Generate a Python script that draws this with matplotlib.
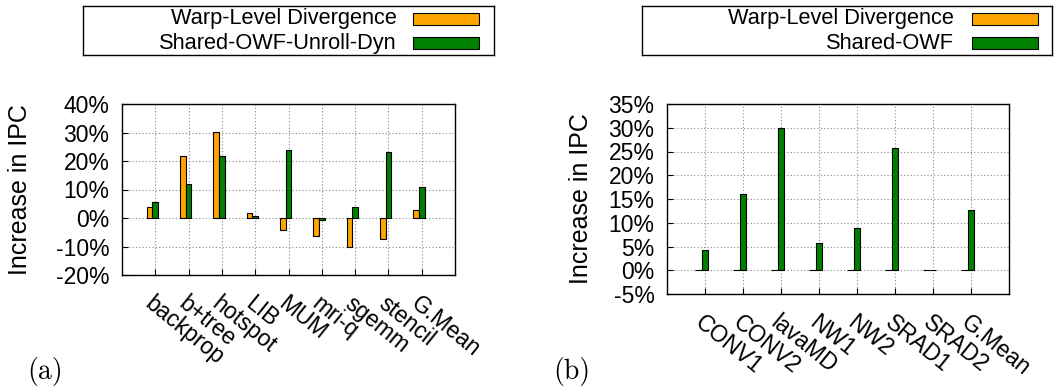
import matplotlib
matplotlib.use("Agg")
import matplotlib.pyplot as plt
import numpy as np
from matplotlib.patches import Rectangle
from matplotlib.ticker import FormatStrFormatter

plt.rcParams['font.family'] = ['Liberation Sans', 'DejaVu Sans']

# data (percent increase in IPC)
bench_a = ['backprop', 'b+tree', 'hotspot', 'LIB', 'MUM', 'mri-q', 'sgemm', 'stencil', 'G.Mean']
warp_a = [3.9, 21.8, 30.1, 1.8, -4.2, -6.2, -10.2, -7.4, 2.8]
owf_a = [5.7, 12.0, 21.6, 0.8, 24.0, -0.8, 4.0, 23.3, 10.9]

bench_b = ['CONV1', 'CONV2', 'lavaMD', 'NW1', 'NW2', 'SRAD1', 'SRAD2', 'G.Mean']
warp_b = [0.15, 0.15, 0.15, 0.15, 0.15, 0.15, 0.15, 0.15]
owf_b = [4.3, 15.95, 30.0, 5.65, 9.0, 25.8, 0.15, 12.6]

legend_a = ['Warp-Level Divergence', 'Shared-OWF-Unroll-Dyn']
legend_b = ['Warp-Level Divergence', 'Shared-OWF']

ORANGE = '#FFA500'
GREEN = '#008000'

W, H = 1057, 389
fig = plt.figure(figsize=(W / 100, H / 100), dpi=100)


def px_axes(x0, y0, x1, y1):
    # axes from pixel box (top-left origin)
    return fig.add_axes([x0 / W, 1 - y1 / H, (x1 - x0) / W, (y1 - y0) / H])


def draw_panel(ax, names, warp, owf, ymin, ymax, ystep, label_x):
    x = np.arange(1, len(names) + 1)
    ax.bar(x - 0.17, warp, width=0.17, color=ORANGE, edgecolor='black', linewidth=0.8, zorder=3)
    ax.bar(x, owf, width=0.17, color=GREEN, edgecolor='black', linewidth=0.8, zorder=3)
    ax.set_xlim(0, len(names) + 1)
    ax.set_ylim(ymin, ymax)
    ax.set_yticks(np.arange(ymin, ymax + 1, ystep))
    ax.yaxis.set_major_formatter(FormatStrFormatter('%d%%'))
    ax.set_xticks(x)
    ax.set_xticklabels(names, rotation=-39, ha='left', va='top', rotation_mode='anchor',
                       fontsize=16.5)
    ax.grid(True, linestyle=(0, (1, 2)), color='#888888', linewidth=0.8)
    ax.set_axisbelow(True)
    ax.tick_params(direction='in', length=4, pad=9)
    ax.tick_params(axis='x', pad=12)
    ax.tick_params(axis='y', labelsize=16.5)
    ax.set_ylabel('Increase in IPC', fontsize=18, va='center')
    ax.yaxis.set_label_coords(label_x, 0.5)
    for s in ax.spines.values():
        s.set_linewidth(1.0)


def draw_legend(x0, x1, labels, text_right, sw0, sw1):
    lax = px_axes(x0, 6, x1, 55)
    lax.set_xlim(x0, x1)
    lax.set_ylim(55, 6)
    lax.set_xticks([])
    lax.set_yticks([])
    for s in lax.spines.values():
        s.set_linewidth(1.0)
    for lab, col, y in zip(labels, [ORANGE, GREEN], [18.5, 43.3]):
        lax.text(text_right, y, lab, ha='right', va='center', fontsize=15.7)
        lax.add_patch(Rectangle((sw0, y - 6), sw1 - sw0, 12, facecolor=col,
                                edgecolor='black', linewidth=0.8))


ax_a = px_axes(122, 104, 455, 275)
draw_panel(ax_a, bench_a, warp_a, owf_a, -20, 40, 10, (20 - 122) / 333)

ax_b = px_axes(667, 104, 1009, 294)
draw_panel(ax_b, bench_b, warp_b, owf_b, -5, 35, 5, (581 - 667) / 342)

draw_legend(83, 494, legend_a, 397, 413, 479)
draw_legend(642, 1052, legend_b, 954, 972, 1038)

fig.text(45 / W, 1 - 372 / H, '(a)', fontfamily='cmr10', fontsize=20, ha='center', va='center')
fig.text(572 / W, 1 - 372 / H, '(b)', fontfamily='cmr10', fontsize=20, ha='center', va='center')

fig.savefig('out.png', dpi=100)
